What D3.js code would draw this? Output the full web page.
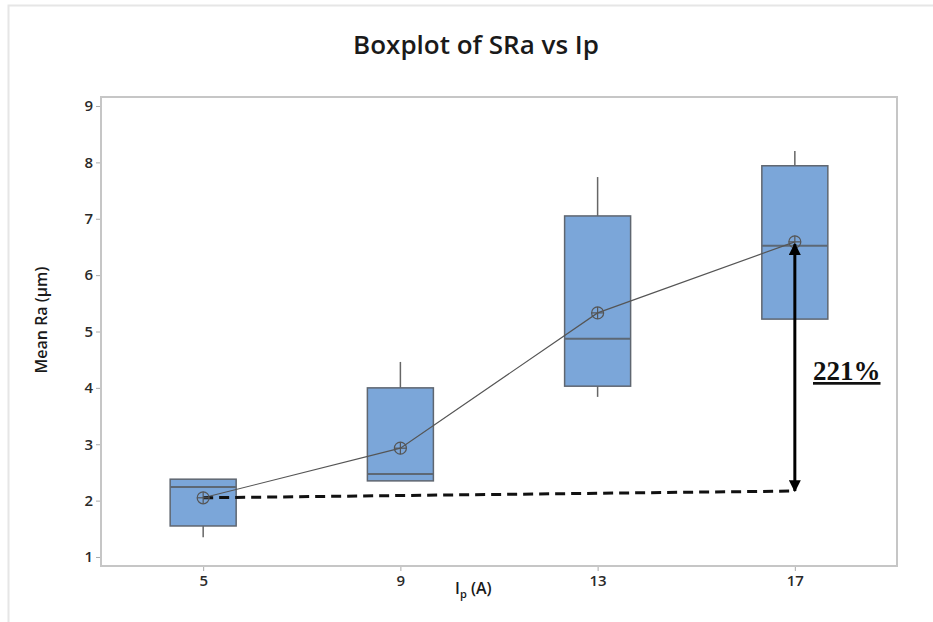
<!DOCTYPE html>
<html><head><meta charset="utf-8">
<script src="https://cdn.jsdelivr.net/npm/d3@7"></script>
<style>body{margin:0;background:#fff}svg{display:block}</style>
</head><body>
<svg id="c" width="933" height="622"></svg>
<script>
const categories = ["5", "9", "13", "17"];
const whiskerLow = [1.35, 2.35, 3.84, 5.22];
const q1 = [1.55, 2.35, 4.03, 5.22];
const median = [2.24, 2.47, 4.87, 6.52];
const q3 = [2.38, 4.00, 7.05, 7.94];
const whiskerHigh = [2.38, 4.46, 7.74, 8.20];
const means = [2.05, 2.93, 5.33, 6.59];
const yTicks = [1, 2, 3, 4, 5, 6, 7, 8, 9];
const baselineValues = [2.05, 2.17];   // dashed reference from mean at Ip=5 to Ip=17
const arrowValues = [2.17, 6.55];
const annotationText = "221%";

const svg = d3.select("#c");
const L = 101, R = 897, T = 97, B = 566;

// outer light frame
svg.append("path").attr("d", "M8.5,622 V5.5 H933").attr("fill", "none")
  .attr("stroke", "#e6e6e6").attr("stroke-width", 2);

const x = d3.scaleLinear().domain([-0.518, categories.length - 1 + 0.518]).range([L, R]);
const y = d3.scaleLinear().domain([0.84, 9.16]).range([B, T]);

// title
svg.append("text").attr("x", 476).attr("y", 54).attr("text-anchor", "middle")
  .attr("font-family", "Open Sans").attr("font-weight", 600).attr("font-size", 26)
  .attr("fill", "#1a1a1a").text("Boxplot of SRa vs Ip");

// axes
const yAxis = d3.axisLeft(y).tickValues(yTicks).tickSize(5).tickPadding(3);
const gy = svg.append("g").attr("transform", `translate(${L},0)`).call(yAxis);
const xAxis = d3.axisBottom(x).tickValues(d3.range(categories.length))
  .tickFormat(i => categories[i]).tickSize(5).tickPadding(4);
const gx = svg.append("g").attr("transform", `translate(0,${B})`).call(xAxis);
[gx, gy].forEach(g => {
  g.select(".domain").remove();
  g.selectAll(".tick line").attr("stroke", "#aaa");
  g.selectAll(".tick text").attr("font-family", "Open Sans").attr("font-weight", 600)
    .attr("font-size", 15).attr("fill", "#2a2a2a");
});

// plot frame
svg.append("rect").attr("x", L).attr("y", T).attr("width", R - L).attr("height", B - T)
  .attr("fill", "none").attr("stroke", "#c6c6c6").attr("stroke-width", 2);

// axis titles
svg.append("text").attr("transform", "translate(47,320) rotate(-90)").attr("text-anchor", "middle")
  .attr("font-family", "Open Sans").attr("font-weight", 600).attr("font-size", 16)
  .attr("fill", "#1a1a1a").text("Mean Ra (µm)");
const xl = svg.append("text").attr("x", 455).attr("y", 594)
  .attr("font-family", "Open Sans").attr("font-weight", 600).attr("font-size", 16).attr("fill", "#1a1a1a");
xl.append("tspan").text("I");
xl.append("tspan").attr("font-size", 11).attr("dy", 4).text("p");
xl.append("tspan").attr("dy", -4).text(" (A)");

// boxes
const bw = 66;
const boxes = svg.append("g");
categories.forEach((c, i) => {
  const cx = x(i);
  boxes.append("line").attr("x1", cx).attr("x2", cx).attr("y1", y(q3[i])).attr("y2", y(whiskerHigh[i]))
    .attr("stroke", "#666").attr("stroke-width", 1.5);
  boxes.append("line").attr("x1", cx).attr("x2", cx).attr("y1", y(q1[i])).attr("y2", y(whiskerLow[i]))
    .attr("stroke", "#666").attr("stroke-width", 1.5);
  boxes.append("rect").attr("x", cx - bw / 2).attr("y", y(q3[i])).attr("width", bw)
    .attr("height", y(q1[i]) - y(q3[i])).attr("fill", "#7ba6d9").attr("stroke", "#5f6670").attr("stroke-width", 1.5);
  boxes.append("line").attr("x1", cx - bw / 2).attr("x2", cx + bw / 2).attr("y1", y(median[i])).attr("y2", y(median[i]))
    .attr("stroke", "#5d6875").attr("stroke-width", 2);
});

// mean connect line
svg.append("path").datum(means)
  .attr("d", d3.line().x((d, i) => x(i)).y(d => y(d)))
  .attr("fill", "none").attr("stroke", "#555").attr("stroke-width", 1.2);

// dashed baseline
svg.append("line").attr("x1", x(0)).attr("x2", x(3)).attr("y1", y(baselineValues[0])).attr("y2", y(baselineValues[1]))
  .attr("stroke", "#111").attr("stroke-width", 3).attr("stroke-dasharray", "10,6");

// mean symbols
means.forEach((m, i) => {
  const cx = x(i), cy = y(m), r = 6;
  const g = svg.append("g").attr("stroke", "#555").attr("stroke-width", 1.2).attr("fill", "none");
  g.append("circle").attr("cx", cx).attr("cy", cy).attr("r", r);
  g.append("line").attr("x1", cx - r).attr("x2", cx + r).attr("y1", cy).attr("y2", cy);
  g.append("line").attr("x1", cx).attr("x2", cx).attr("y1", cy - r).attr("y2", cy + r);
});

// double arrow
const defs = svg.append("defs");
defs.append("marker").attr("id", "ah").attr("viewBox", "0 0 10 10").attr("refX", 9).attr("refY", 5)
  .attr("markerWidth", 4).attr("markerHeight", 4).attr("orient", "auto-start-reverse")
  .append("path").attr("d", "M0,0 L10,5 L0,10 z").attr("fill", "#000");
svg.append("line").attr("x1", x(3)).attr("x2", x(3)).attr("y1", y(arrowValues[0])).attr("y2", y(arrowValues[1]))
  .attr("stroke", "#000").attr("stroke-width", 3)
  .attr("marker-start", "url(#ah)").attr("marker-end", "url(#ah)");

// annotation
svg.append("text").attr("x", 813).attr("y", 380)
  .attr("font-family", "Liberation Serif").attr("font-weight", 700).attr("font-size", 27)
  .attr("fill", "#111").attr("text-decoration", "underline").text(annotationText);
</script>
</body></html>
